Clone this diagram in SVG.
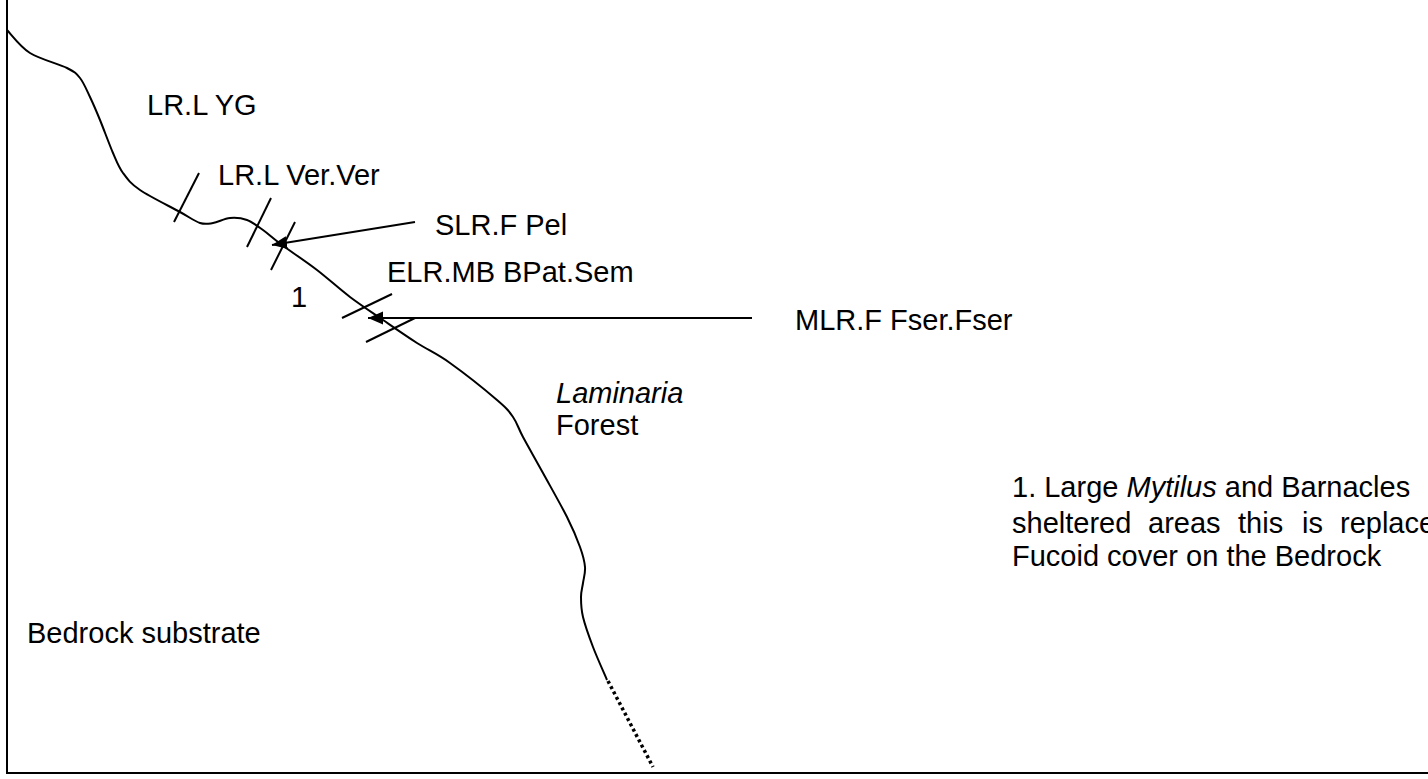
<svg xmlns="http://www.w3.org/2000/svg" width="1428" height="779" viewBox="0 0 1428 779">
<style>
  .t { font-family: "Liberation Sans", Arial, sans-serif; font-size: 29px; fill: #000; }
  .i { font-style: italic; }
  .ln { fill: none; stroke: #000; stroke-width: 2; }
  .arr { fill: none; stroke: #000; stroke-width: 2; marker-end: url(#ah); }
</style>
<defs>
  <marker id="ah" markerUnits="userSpaceOnUse" markerWidth="17" markerHeight="15" refX="15" refY="6.5" orient="auto">
    <path d="M0,0 L15,6.5 L0,13 Z" fill="#000"/>
  </marker>
</defs>
<rect width="1428" height="779" fill="#fff"/>
<g id="axes">
  <path class="ln" d="M7,0 V773 H1428"/>
</g>
<g id="shore">
  <path class="ln" d="M7,30 C11,34 20,46.7 30,53 S58.7,63.8 67,68 S76.2,73.2 80,78 S86.7,90 90,97 S96.2,110.7 100,120 S109.2,144.2 113,153 S118.5,166.8 123,173 S130.5,183.5 140,190 S170,206.5 180,212 S194.5,221.2 200,223 S208,223.8 213,223 S224.3,218.5 230,218 S241.5,218 247,220 S257.2,225.8 263,230 S273,238.3 282,245 S305.7,261.3 317,270 S339,288.7 350,297 S371.8,312.3 383,320 S405.8,335.8 417,343 S436.7,353.5 450,363 S486.5,391 497,400 S508.7,410.8 513,417 S518,427.7 523,437 S535.7,459.7 543,473 S560.8,504.7 567,517 S577,538.7 580,547 S584.5,561 585,567 S583.7,578 583,583 S581,591.3 581,597 S581,608.7 583,617 S589,636.5 593,647 S604.7,674.5 607,680"/>
  <path d="M608,681 L653,767" fill="none" stroke="#000" stroke-width="3.5" stroke-dasharray="3 3"/>
</g>
<g id="ticks">
  <line class="ln" x1="199" y1="173" x2="174" y2="222"/>
  <line class="ln" x1="271" y1="198" x2="247" y2="247"/>
  <line class="ln" x1="295" y1="222" x2="271" y2="270"/>
  <line class="ln" x1="392" y1="294" x2="342" y2="318"/>
  <line class="ln" x1="415" y1="318" x2="366" y2="342"/>
</g>
<g id="connectors">
  <line class="arr" x1="415" y1="222" x2="272" y2="245"/>
  <line class="arr" x1="752" y1="318" x2="368" y2="318"/>
</g>
<g id="label-lrl-yg"><text class="t" x="147" y="115">LR.L YG</text></g>
<g id="label-lrl-ver"><text class="t" x="218" y="185">LR.L Ver.Ver</text></g>
<g id="label-slr"><text class="t" x="435" y="235">SLR.F Pel</text></g>
<g id="label-elr"><text class="t" x="387" y="282">ELR.MB BPat.Sem</text></g>
<g id="label-1"><text class="t" x="291" y="307">1</text></g>
<g id="label-mlr"><text class="t" x="795" y="330">MLR.F Fser.Fser</text></g>
<g id="label-laminaria"><text class="t" x="556" y="403"><tspan class="i">Laminaria</tspan><tspan x="556" y="435">Forest</tspan></text></g>
<g id="label-bedrock"><text class="t" x="27" y="643">Bedrock substrate</text></g>
<g id="note">
  <text class="t" x="1012" y="497">1. Large <tspan class="i">Mytilus</tspan> and Barnacles</text>
  <text class="t" y="533"><tspan x="1012">sheltered</tspan><tspan x="1148">areas</tspan><tspan x="1238">this</tspan><tspan x="1302">is</tspan><tspan x="1340">replace</tspan></text>
  <text class="t" x="1012" y="566">Fucoid cover on the Bedrock</text>
</g>
</svg>
